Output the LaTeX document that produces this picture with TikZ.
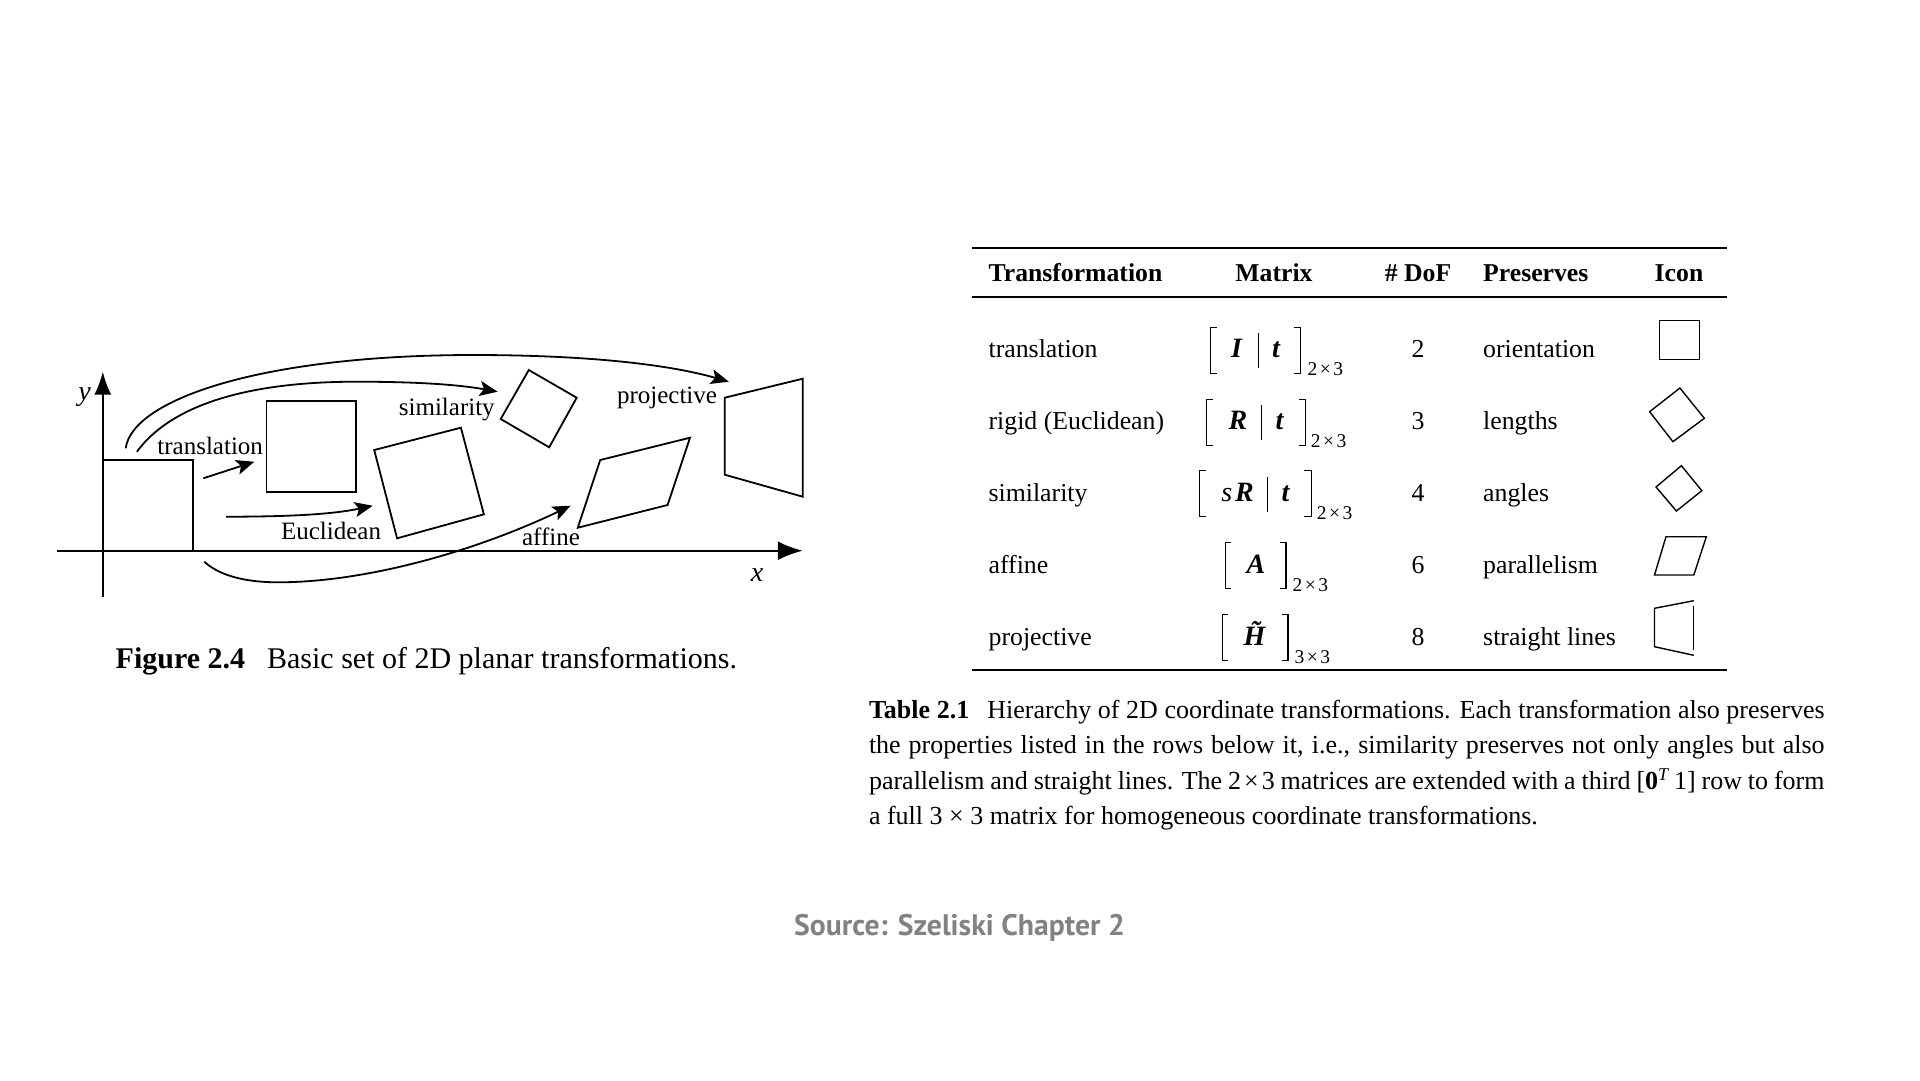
\documentclass[tikz,border=0pt]{standalone}
\usepackage{fontspec}
\setmainfont{Liberation Serif}
\newfontfamily\srcfont{PT Sans}
\usetikzlibrary{arrows.meta}
\definecolor{srcgray}{HTML}{808285}
\tikzset{
  ink/.style={draw=black,line width=1.8pt,line join=miter},
  thin ink/.style={draw=black,line width=1.2pt},
  bigarrow/.style={draw=black,line width=2.4pt,-{Latex[length=25pt,width=19pt]}},
  curvearrow/.style={draw=black,line width=1.8pt,-{Stealth[length=18pt,width=15pt,inset=4pt]}},
  rule/.style={draw=black},
  lab/.style={inner sep=0pt,anchor=base,font=\fontsize{25}{30}\selectfont},
  labw/.style={inner sep=0pt,anchor=base west,font=\fontsize{25.8}{30}\selectfont},
  num/.style={inner sep=0pt,anchor=base,font=\fontsize{25.8}{30}\selectfont},
  head/.style={inner sep=0pt,anchor=base,font=\fontsize{25.7}{30}\selectfont\bfseries},
  headw/.style={inner sep=0pt,anchor=base west,font=\fontsize{25.7}{30}\selectfont\bfseries},
  sym/.style={inner sep=0pt,anchor=base,font=\fontsize{28}{30}\selectfont\bfseries\itshape},
  subs/.style={inner sep=0pt,anchor=base west,font=\fontsize{19.5}{20}\selectfont},
  capline/.style={inner sep=0pt,anchor=base west,font=\fontsize{26}{30}\selectfont},
}
\newcommand{\brk}[5]{%
  \draw[thin ink,line width=1.3pt] (#2,#5-30) -- (#1,#5-30) -- (#1,#5+16) -- (#2,#5+16);
  \draw[thin ink,line width=1.3pt] (#3,#5-30) -- (#4,#5-30) -- (#4,#5+16) -- (#3,#5+16);
}
\newcommand{\capln}[3]{\node[capline] (#1) at (868.8,#2) {\makebox[955.6pt][s]{#3}};}
\begin{document}
\begin{tikzpicture}[x=1pt,y=-1pt]
\useasboundingbox (0,0) rectangle (1920,1080);
\fill[white] (0,0) rectangle (1920,1080);
% ---------- figure ----------
\coordinate (xs) at (56.8,550.7); \coordinate (xe) at (802.8,550.7);
\coordinate (ys) at (102.8,596.7); \coordinate (ye) at (102.8,371.7);
\draw[thin ink,line width=1.6pt] (102.8,550.7) -- (ys);
\draw[draw=black,line width=1.6pt,-{Latex[length=23pt,width=17pt]}] (102.8,550.7) -- (ye);
\draw[bigarrow] (xs) -- (xe);
\draw[thin ink] (102.8,460) rectangle (193,550.7);
\draw[ink] (266.5,401) rectangle (356.3,491.7);
\draw[ink] (374.2,450) -- (460.9,427.7) -- (483.9,514.3) -- (397.1,538.3) -- cycle;
\draw[ink] (528.8,370) -- (576.7,397.7) -- (549.2,447.3) -- (500.7,419) -- cycle;
\draw[ink] (600.2,460) -- (690,437.7) -- (667.6,505) -- (577.8,527.7) -- cycle;
\draw[ink] (724.7,397.7) -- (802.8,378.7) -- (802.8,496.7) -- (724.7,474.7) -- cycle;
% curved arrows
\coordinate (ts) at (203.3,478.3); \coordinate (te) at (254.3,461.7);
\draw[curvearrow] (ts) -- (te);
\coordinate (es) at (226.2,516.7); \coordinate (ee) at (372.7,505.7);
\draw[curvearrow] (es) .. controls (280,516.7) and (330,515) .. (ee);
\coordinate (as) at (204.3,561.7); \coordinate (am) at (278,582.3); \coordinate (ae) at (570.6,505.7);
\draw[curvearrow] (as) .. controls (222,578) and (252,582.3) .. (am)
   .. controls (368,582.3) and (478,550) .. (ae);
\coordinate (ss) at (136.9,451.7); \coordinate (sm) at (356.3,381.7); \coordinate (se) at (497.7,391.7);
\draw[curvearrow] (ss) .. controls (175,400) and (260,381.7) .. (sm)
   .. controls (410,381.7) and (455,384) .. (se);
\coordinate (ps) at (125.7,448.3); \coordinate (pm) at (473.7,355); \coordinate (pe) at (728.8,381.7);
\draw[curvearrow] (ps) .. controls (132,400) and (260,355) .. (pm)
   .. controls (570,355) and (660,362) .. (pe);
% figure labels
\node[lab] (ltrans) at (210.2,454) {translation};
\node[lab] (lsim) at (446.8,415) {similarity};
\node[lab] (leuc) at (331,539.8) {Euclidean};
\node[lab] (laff) at (551,545) {affine};
\node[lab] (lproj) at (667,403.7) {projective};
\node[lab,font=\fontsize{28}{30}\selectfont\itshape] (ly) at (84.5,400) {y};
\node[lab,font=\fontsize{28}{30}\selectfont\itshape] (lx) at (757,581.7) {x};
\node[inner sep=0pt,anchor=base west,font=\fontsize{30}{34}\selectfont] (figcap) at (115.5,668)
  {\textbf{Figure 2.4}\hspace{22pt}Basic set of 2D planar transformations.};
% ---------- table ----------
\coordinate (r1a) at (972.4,248); \coordinate (r1b) at (1726.7,248);
\coordinate (r2a) at (972.4,297); \coordinate (r2b) at (1726.7,297);
\coordinate (r3a) at (972.4,670.3); \coordinate (r3b) at (1726.7,670.3);
\draw[rule,line width=2pt] (r1a) -- (r1b);
\draw[rule,line width=1.6pt] (r2a) -- (r2b);
\draw[rule,line width=2pt] (r3a) -- (r3b);
\node[headw] (h1) at (988.4,281) {Transformation};
\node[head] (h2) at (1274,281) {Matrix};
\node[head] (h3) at (1418,281) {\# DoF};
\node[headw] (h4) at (1483,281) {Preserves};
\node[head] (h5) at (1679,281) {Icon};
% rows
\node[labw] (c11) at (988.4,357.6) {translation};
\node[labw] (c21) at (988.4,429.6) {rigid (Euclidean)};
\node[labw] (c31) at (988.4,501.6) {similarity};
\node[labw] (c41) at (988.4,573.4) {affine};
\node[labw] (c51) at (988.4,645.4) {projective};
\node[num] (c13) at (1418,357.6) {2};
\node[num] (c23) at (1418,429.6) {3};
\node[num] (c33) at (1418,501.6) {4};
\node[num] (c43) at (1418,573.4) {6};
\node[num] (c53) at (1418,645.4) {8};
\node[labw] (c14) at (1483,357.6) {orientation};
\node[labw] (c24) at (1483,429.6) {lengths};
\node[labw] (c34) at (1483,501.6) {angles};
\node[labw] (c44) at (1483,573.4) {parallelism};
\node[labw] (c54) at (1483,645.4) {straight lines};
% matrices
\brk{1210.2}{1217.2}{1293.8}{1300.8}{357.3}
\draw[thin ink,line width=1pt] (1258,333.3) -- (1258,368.3);
\node[sym] (m1a) at (1236.6,357.6) {I};
\node[sym] (m1b) at (1276,357.6) {t};
\node[subs] (m1s) at (1307.3,375.5) {2\kern2.5pt×\kern2.5pt3};
\brk{1206.3}{1212.7}{1298.8}{1305.3}{429.3}
\draw[thin ink,line width=1pt] (1261.5,405.3) -- (1261.5,440.3);
\node[sym] (m2a) at (1238,429.6) {R};
\node[sym] (m2b) at (1279.4,429.6) {t};
\node[subs] (m2s) at (1310.7,447.5) {2\kern2.5pt×\kern2.5pt3};
\brk{1199.8}{1206.3}{1304.3}{1311.2}{500.7}
\draw[thin ink,line width=1pt] (1267.5,476.7) -- (1267.5,511.7);
\node[sym] (m3a) at (1237.6,501.6) {{\mdseries s}\kern3pt R};
\node[sym] (m3b) at (1285.4,501.6) {t};
\node[subs] (m3s) at (1316.7,519) {2\kern2.5pt×\kern2.5pt3};
\brk{1225.2}{1231}{1279.9}{1285.9}{572.7}
\node[sym] (m4a) at (1256,573.4) {A};
\node[subs] (m4s) at (1292.3,591) {2\kern2.5pt×\kern2.5pt3};
\brk{1222.2}{1228.2}{1281.9}{1287.9}{644.7}
\node[sym] (m5a) at (1254.5,645.4) {\~{H}};
\node[subs] (m5s) at (1294.3,663) {3\kern2.5pt×\kern2.5pt3};
% icons
\draw[thin ink] (1659.5,320.3) rectangle (1699.3,359.3);
\draw[thin ink,line width=1.4pt] (1679.9,388) -- (1704.3,418.3) -- (1672.9,441.7) -- (1649.6,411.7) -- cycle;
\draw[thin ink,line width=1.4pt] (1681.4,465.7) -- (1701.8,490.7) -- (1676.4,511) -- (1656,487) -- cycle;
\draw[thin ink,line width=1.4pt] (1666,536.7) -- (1706.3,536.7) -- (1693.8,575) -- (1654.5,575) -- cycle;
\draw[thin ink,line width=1.4pt] (1693.8,600.7) -- (1654.5,608.3) -- (1654.5,646.7) -- (1693.8,655.3);
\draw[thin ink] (1693.8,606) -- (1693.8,650);
% table caption
\capln{cap1}{718.3}{\textbf{Table 2.1}\hspace{18pt}Hierarchy of 2D coordinate transformations. Each transformation also preserves}
\capln{cap2}{753.8}{the properties listed in the rows below it, i.e., similarity preserves not only angles but also}
\capln{cap3}{789.3}{parallelism and straight lines. The 2\kern3pt×\kern3pt3 matrices are extended with a third [\textbf{0}\raisebox{9pt}{\fontsize{18}{18}\selectfont\itshape T} 1] row to form}
\node[capline] (cap4) at (868.8,824.8) {a full 3 × 3 matrix for homogeneous coordinate transformations.};
% source
\node[inner sep=0pt,anchor=base,text=srcgray,font=\srcfont\bfseries\fontsize{29.7}{34}\selectfont] (src) at (959.6,935) {Source: Szeliski Chapter 2};
\end{tikzpicture}
\end{document}
